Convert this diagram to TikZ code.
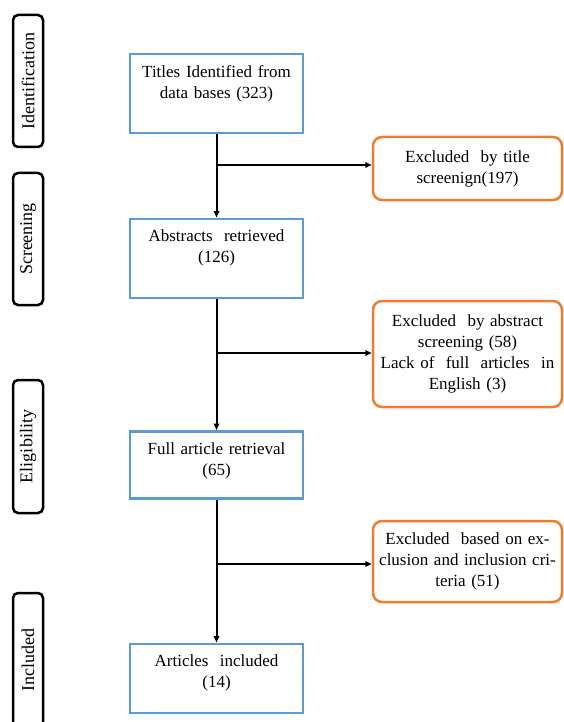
\documentclass[tikz,border=0pt]{standalone}
\usepackage{fontspec}
\setmainfont{Liberation Serif}
\usepackage{xcolor}
\usepackage{tikz}
\usetikzlibrary{positioning, arrows.meta}
\definecolor{stepblue}{HTML}{5B9BD5}
\definecolor{exclorange}{HTML}{ED7D31}

\tikzset{
  every node/.style={font=\fontsize{17pt}{21pt}\selectfont},
  stagebox/.style={draw=black, line width=2.5pt, rounded corners=5pt, rotate=90,
    minimum height=30pt, inner sep=0pt, font=\fontsize{18pt}{21pt}\selectfont},
  flowbox/.style={draw=stepblue, line width=2.5pt, text width=161pt, align=center,
    inner xsep=6pt, inner ysep=0pt, text height=23pt},
  exclbox/.style={draw=exclorange, line width=2.5pt, rounded corners=9pt,
    text width=179pt, align=center, inner xsep=5pt, minimum width=189pt},
  flowarrow/.style={line width=2pt, -{Triangle[length=6.5pt, width=5.5pt]}}
}

\begin{document}
\begin{tikzpicture}[x=1pt, y=-1pt]
  \useasboundingbox (0,0) rectangle (563,722);

  % stages
  \node[stagebox, minimum width=132pt] (ident) at (28,81) {Identification};
  \node[stagebox, minimum width=132pt] (screen) at (28,239) {Screening};
  \node[stagebox, minimum width=133pt] (elig) at (28,446.5) {Eligibility};
  \node[stagebox, minimum width=134pt] (incl) at (28,660) {Included};

  % main flow
  \node[flowbox, anchor=north, text depth=56pt] (titles) at (216.5,53)
    {Titles Identified from\\data bases (323)};
  \node[flowbox, below=83pt of titles, text depth=56pt] (abstracts)
    {Abstracts~ retrieved\\(126)};
  \node[flowbox, below=131pt of abstracts, text depth=44pt] (fullart)
    {Full article retrieval\\(65)};
  \node[flowbox, below=143pt of fullart, text depth=46pt] (included)
    {Articles~ included\\(14)};

  % exclusions
  \node[exclbox, minimum height=63pt] (byTitle) at (467.5,168.5)
    {Excluded~ by title\\screenign(197)};
  \node[exclbox, minimum height=106pt] (byAbstract) at (467.5,354)
    {Excluded~ by abstract\\screening (58)\\Lack of~ full~ articles~ in\\English (3)};
  \node[exclbox, minimum height=81pt] (byCriteria) at (467.5,561.5)
    {Excluded~ based on ex-\\clusion and inclusion cri-\\teria (51)};

  \draw[flowarrow] (titles) -- (abstracts);
  \draw[flowarrow] (abstracts) -- (fullart);
  \draw[flowarrow] (fullart) -- (included);

  \coordinate (split1) at (216.5,165);
  \coordinate (split2) at (216.5,353);
  \coordinate (split3) at (216.5,564);
  \draw[flowarrow] (split1) -- (split1 -| byTitle.west);
  \draw[flowarrow] (split2) -- (split2 -| byAbstract.west);
  \draw[flowarrow] (split3) -- (split3 -| byCriteria.west);
\end{tikzpicture}
\end{document}
